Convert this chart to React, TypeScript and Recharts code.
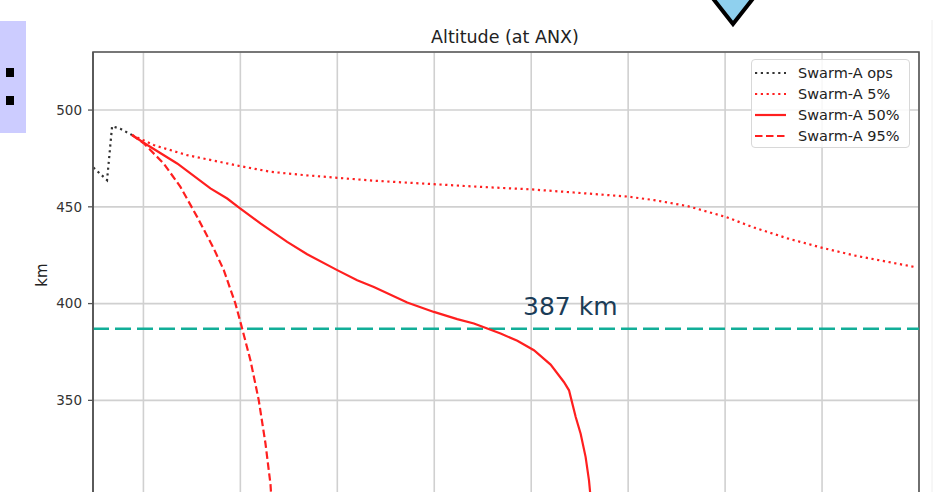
import {
  CartesianGrid,
  Line,
  LineChart,
  ReferenceArea,
  ReferenceLine,
  XAxis,
  YAxis,
} from "recharts";

// x is in years from the first grid line (axis labels are cropped off)
const opsYears = [-0.516, -0.375, -0.323, -0.237, -0.117];
const opsAlt = [470.3, 463.8, 491.7, 490.3, 487.1];

const p5Years = [
  -0.117, 0.106, 0.451, 0.983, 1.311, 1.654, 1.999, 2.377, 2.996, 3.478, 4.004,
  4.441, 4.992, 5.266, 5.611, 6.006, 6.298, 6.643, 7.004, 7.33, 7.675, 7.949,
];
const p5Alt = [
  487.1, 481.9, 476.7, 471.2, 468.1, 466.4, 465.0, 463.5, 461.7, 460.3, 459.0,
  457.4, 455.3, 453.5, 450.4, 444.8, 439.3, 433.7, 428.8, 424.9, 421.6, 419.0,
];

const p50Years = [
  -0.117, 0.003, 0.348, 0.691, 0.864, 0.983, 1.207, 1.483, 1.689, 1.999, 2.205,
  2.377, 2.721, 2.996, 3.237, 3.409, 3.547, 3.684, 3.857, 4.028, 4.2, 4.337,
  4.39, 4.407, 4.459, 4.51, 4.561, 4.596, 4.62, 4.64,
];
const p50Alt = [
  487.1, 483.1, 472.4, 459.5, 454.3, 449.7, 441.4, 431.9, 425.5, 417.3, 412.1,
  408.6, 400.6, 395.7, 392.0, 389.7, 387.1, 384.5, 380.8, 375.9, 368.5, 359.5,
  355.2, 351.8, 341.4, 332.8, 320.8, 308.7, 296.0, 285.0,
];

const p95Years = [
  -0.117, 0.003, 0.209, 0.382, 0.554, 0.725, 0.829, 0.949, 1.019, 1.104, 1.19,
  1.259, 1.311, 1.336,
];
const p95Alt = [
  487.1, 482.8, 472.4, 460.3, 444.8, 428.5, 417.3, 400.0, 387.0, 370.7, 350.0,
  327.7, 306.6, 285.0,
];

const yTicks = [300, 350, 400, 450, 500];
const xTicks = [0, 1, 2, 3, 4, 5, 6, 7, 8];
const threshold = 387;

const RED = "#ff1f1f";
const FONT = "'DejaVu Sans', sans-serif";

const toSeries = (xs: number[], ys: number[]) =>
  xs.map((x, i) => ({ yr: x, alt: ys[i] }));

const opsData = toSeries(opsYears, opsAlt);
const p5Data = toSeries(p5Years, p5Alt);
const p50Data = toSeries(p50Years, p50Alt);
const p95Data = toSeries(p95Years, p95Alt);

const legendItems = [
  { name: "Swarm-A ops", color: "#333", dash: "2.2 3.6" },
  { name: "Swarm-A 5%", color: RED, dash: "2.2 3.6" },
  { name: "Swarm-A 50%", color: RED, dash: undefined },
  { name: "Swarm-A 95%", color: RED, dash: "7.5 3.5" },
];

// x tick labels are below the crop of the original, so draw nothing
const NoTick = () => <g />;

function ThresholdLabel({ viewBox }: { viewBox?: { x: number; y: number } }) {
  if (!viewBox) return null;
  return (
    <text
      x={viewBox.x + 430}
      y={viewBox.y - 13.5}
      fill="#1b3c57"
      fontSize={25}
      fontFamily={FONT}
    >
      {threshold} km
    </text>
  );
}

export default function App() {
  return (
    <div
      style={{
        position: "absolute",
        left: 0,
        top: 0,
        width: 939,
        height: 492,
        overflow: "hidden",
        background: "#fff",
      }}
    >
      <LineChart
        width={939}
        height={531}
        margin={{ top: 52, right: 20, left: 0, bottom: 0 }}
        style={{ position: "absolute", left: 0, top: 0 }}
      >
        <CartesianGrid stroke="#d0d0d0" strokeWidth={1.6} />
        <XAxis
          dataKey="yr"
          type="number"
          domain={[-0.52, 8.0]}
          ticks={xTicks}
          allowDataOverflow
          tickLine={false}
          axisLine={false}
          tick={NoTick}
        />
        <YAxis
          type="number"
          domain={[298, 530]}
          ticks={yTicks}
          allowDataOverflow
          width={93}
          tickSize={5}
          tickMargin={6}
          tickLine={{ stroke: "#555", strokeWidth: 1.3 }}
          axisLine={{ stroke: "#555", strokeWidth: 1.6 }}
          tick={{ fill: "#333", fontSize: 13.5, fontFamily: FONT }}
        />
        <ReferenceArea
          x1={-0.52}
          x2={8.0}
          y1={298}
          y2={530}
          fill="none"
          stroke="#555"
          strokeWidth={1.6}
        />
        <ReferenceLine
          y={threshold}
          stroke="#12ae98"
          strokeWidth={2.5}
          strokeDasharray="16 6"
          label={<ThresholdLabel />}
        />
        <Line
          data={opsData}
          dataKey="alt"
          stroke="#333"
          strokeWidth={2.2}
          strokeDasharray="2.2 3.6"
          dot={false}
          isAnimationActive={false}
        />
        <Line
          data={p5Data}
          dataKey="alt"
          stroke={RED}
          strokeWidth={2.2}
          strokeDasharray="2.2 3.6"
          dot={false}
          isAnimationActive={false}
        />
        <Line
          data={p50Data}
          dataKey="alt"
          stroke={RED}
          strokeWidth={2.2}
          dot={false}
          isAnimationActive={false}
        />
        <Line
          data={p95Data}
          dataKey="alt"
          stroke={RED}
          strokeWidth={2.2}
          strokeDasharray="7.5 3.5"
          dot={false}
          isAnimationActive={false}
        />
      </LineChart>

      {/* title, y label and slide decorations */}
      <svg
        width={939}
        height={492}
        style={{ position: "absolute", left: 0, top: 0, pointerEvents: "none" }}
      >
        <text
          x={505}
          y={43}
          textAnchor="middle"
          fontSize={17.5}
          fontFamily={FONT}
          fill="#222"
        >
          Altitude (at ANX)
        </text>
        <text
          transform="translate(47,275) rotate(-90)"
          textAnchor="middle"
          fontSize={15}
          fontFamily={FONT}
          fill="#222"
        >
          km
        </text>
        <polygon
          points="711,-4 755,-4 733,24"
          fill="#8fd0ee"
          stroke="#000"
          strokeWidth={4}
        />
        <line x1={932} y1={20} x2={932} y2={492} stroke="#eee" strokeWidth={1} />
      </svg>

      <div
        style={{
          position: "absolute",
          left: 0,
          top: 21,
          width: 26,
          height: 112,
          background: "#ccccff",
        }}
      >
        <div style={{ position: "absolute", left: 6, top: 47, width: 8, height: 9, background: "#000" }} />
        <div style={{ position: "absolute", left: 6, top: 75, width: 8, height: 9, background: "#000" }} />
      </div>

      {/* Legend */}
      <div
        style={{
          position: "absolute",
          left: 751,
          top: 59,
          width: 159,
          height: 89,
          border: "1px solid #d8d8d8",
          borderRadius: 4,
          background: "rgba(255,255,255,0.85)",
          boxSizing: "border-box",
          paddingTop: 2,
          fontFamily: FONT,
          fontSize: 14.5,
          color: "#222",
        }}
      >
        {legendItems.map((item) => (
          <div
            key={item.name}
            style={{ display: "flex", alignItems: "center", height: 21 }}
          >
            <svg width={31} height={10} style={{ marginLeft: 3, marginRight: 12 }}>
              <line
                x1={0}
                y1={5}
                x2={31}
                y2={5}
                stroke={item.color}
                strokeWidth={2.2}
                strokeDasharray={item.dash}
              />
            </svg>
            <span style={{ whiteSpace: "nowrap" }}>{item.name}</span>
          </div>
        ))}
      </div>
    </div>
  );
}
